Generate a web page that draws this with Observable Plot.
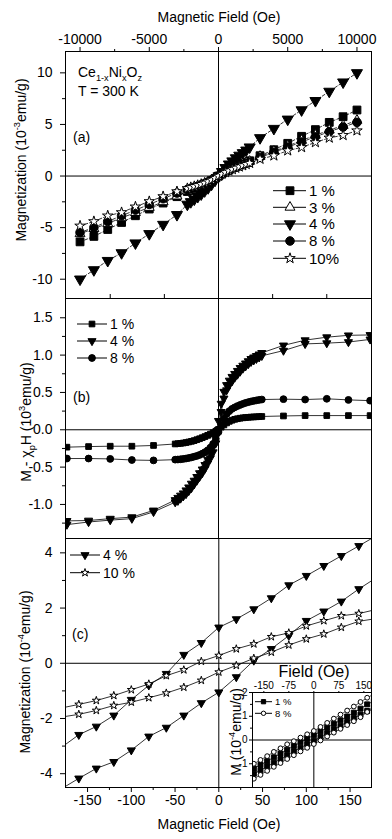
<!DOCTYPE html>
<html><head><meta charset="utf-8">
<script src="https://cdn.jsdelivr.net/npm/d3@7"></script>
<script src="https://cdn.jsdelivr.net/npm/@observablehq/plot@0.6"></script>
<style>
body{margin:0;background:#fff;}
#chart{position:relative;width:392px;height:839px;font-family:"Liberation Sans",Arial,sans-serif;}
#chart svg{position:absolute;left:0;top:0;overflow:visible;}
</style></head><body><div id="chart"></div>
<script>
// ---------- Panel (a): M vs H, 300 K ----------
const H_a = [-10000,-9000,-8000,-7000,-6000,-5000,-4000,-3000,-2250,-2000,-1750,-1500,-1250,-1000,-750,-500,-250,0,250,500,750,1000,1250,1500,1750,2000,2250,3000,4000,5000,6000,7000,8000,9000,10000];
const a_1pct = [-6.38,-5.85,-5.18,-4.5,-3.85,-3.2,-2.62,-2.0,-1.5,-1.38,-1.25,-1.12,-0.98,-0.83,-0.66,-0.47,-0.25,0,0.24,0.45,0.63,0.8,0.95,1.09,1.22,1.35,1.48,1.97,2.55,3.17,3.85,4.5,5.2,5.75,6.4];
const a_3pct = [-5.6,-5.1,-4.6,-4.05,-3.55,-3.05,-2.5,-1.95,-1.45,-1.33,-1.2,-1.08,-0.95,-0.8,-0.63,-0.45,-0.24,0,0.23,0.43,0.61,0.77,0.91,1.05,1.18,1.3,1.42,1.9,2.4,2.9,3.45,3.95,4.45,4.9,5.4];
const a_4pct = [-10.0,-9.1,-8.2,-7.45,-6.5,-5.6,-4.7,-3.75,-2.75,-2.5,-2.25,-2.0,-1.75,-1.45,-1.15,-0.8,-0.42,0,0.42,0.8,1.15,1.45,1.75,2.0,2.25,2.5,2.8,3.7,4.6,5.5,6.4,7.3,8.2,9.1,10.0];
const a_8pct = [-5.47,-4.99,-4.4,-3.85,-3.3,-2.75,-2.2,-1.65,-1.3,-1.2,-1.09,-0.98,-0.86,-0.73,-0.58,-0.41,-0.22,0,0.21,0.4,0.56,0.71,0.85,0.98,1.1,1.22,1.33,1.8,2.3,2.8,3.3,3.8,4.3,4.75,5.2];
const a_10pct = [-4.83,-4.4,-3.85,-3.53,-2.98,-2.46,-1.98,-1.5,-1.2,-1.1,-1.0,-0.9,-0.79,-0.67,-0.54,-0.38,-0.2,0,0.19,0.36,0.51,0.65,0.78,0.9,1.02,1.14,1.25,1.65,1.97,2.46,2.78,3.26,3.7,3.95,4.4];
const a_xTicks = [-10000,-5000,0,5000,10000];
const a_xMinor = [-7500,-2500,2500,7500];
const a_yTicks = [-10,-5,0,5,10];
const a_yMinor = [-7.5,-2.5,2.5,7.5];
const a_legend = ["1 %","3 %","4 %","8 %","10%"];

// ---------- Panel (b): M - chi_p H ----------
const H_b = [-14000,-12000,-10000,-8000,-6000,-4000,-3750,-3500,-3250,-3000,-2750,-2500,-2250,-2000,-1750,-1500,-1250,-1000,-750,-500,-250,0,250,500,750,1000,1250,1500,1750,2000,2250,2500,2750,3000,3250,3500,3750,4000,6000,8000,10000,12000,14000];
const b_1pct = [-0.233,-0.225,-0.22,-0.22,-0.21,-0.19,-0.186,-0.182,-0.177,-0.171,-0.163,-0.155,-0.145,-0.133,-0.12,-0.106,-0.091,-0.075,-0.058,-0.04,-0.02,0.005,0.035,0.065,0.092,0.113,0.128,0.14,0.148,0.155,0.16,0.164,0.167,0.17,0.172,0.174,0.176,0.178,0.185,0.19,0.19,0.19,0.19];
const b_4pct_up = [-1.22,-1.215,-1.19,-1.17,-1.08,-0.94,-0.91,-0.88,-0.85,-0.81,-0.77,-0.72,-0.68,-0.63,-0.58,-0.53,-0.47,-0.4,-0.32,-0.23,-0.1,0.12,0.35,0.51,0.6,0.66,0.71,0.75,0.79,0.83,0.86,0.89,0.92,0.95,0.97,0.99,1.01,1.03,1.13,1.2,1.24,1.265,1.27];
const b_4pct_dn = [-1.27,-1.235,-1.21,-1.19,-1.1,-0.97,-0.95,-0.92,-0.89,-0.86,-0.82,-0.78,-0.73,-0.68,-0.63,-0.58,-0.52,-0.45,-0.38,-0.3,-0.18,0.0,0.24,0.42,0.53,0.6,0.65,0.7,0.74,0.78,0.82,0.85,0.88,0.91,0.93,0.95,0.97,0.99,1.06,1.15,1.16,1.175,1.21];
const b_8pct = [-0.385,-0.385,-0.39,-0.405,-0.41,-0.4,-0.398,-0.395,-0.39,-0.385,-0.378,-0.37,-0.36,-0.35,-0.337,-0.32,-0.3,-0.275,-0.24,-0.19,-0.12,-0.03,0.07,0.15,0.21,0.25,0.28,0.3,0.318,0.333,0.347,0.36,0.37,0.379,0.387,0.394,0.4,0.405,0.41,0.405,0.415,0.4,0.39];
const b_xTicks = [-10000,-5000,5000,10000];
const b_yTicks = [-1,-0.5,0,0.5,1,1.5];
const b_yMinor = [-1.25,-0.75,-0.25,0.25,0.75,1.25];
const b_legend = ["1 %","4 %","8 %"];

// ---------- Panel (c): low-field loops ----------
const H_c = [-180,-160,-140,-120,-100,-80,-60,-40,-20,0,20,40,60,80,100,120,140,160,180];
const c_4pct_up = [-3.05,-2.59,-2.29,-1.89,-1.32,-0.8,-0.38,0.31,0.74,1.3,1.6,1.96,2.36,2.83,3.17,3.53,3.89,4.25,4.62];
const c_4pct_dn = [-4.55,-4.17,-3.81,-3.57,-3.15,-2.65,-2.33,-1.89,-1.44,-1.05,-0.5,0.1,0.52,1.0,1.54,1.88,2.24,2.69,3.1];
const c_10pct_up = [-1.62,-1.49,-1.35,-1.17,-0.96,-0.75,-0.45,-0.24,0.07,0.28,0.52,0.7,0.96,1.1,1.35,1.54,1.72,1.8,1.95];
const c_10pct_dn = [-1.95,-1.85,-1.71,-1.53,-1.41,-1.25,-1.08,-0.87,-0.62,-0.32,-0.08,0.18,0.4,0.66,0.88,1.06,1.3,1.52,1.62];
const c_xTicks = [-150,-100,-50,0,50,100,150];
const c_xMinor = [-125,-75,-25,25,75,125];
const c_yTicks = [-4,-2,0,2,4];
const c_yMinor = [-3,-1,1,3];
const c_legend = ["4 %","10 %"];

// ---------- Inset ----------
const H_in = [-180,-160,-140,-120,-100,-80,-60,-40,-20,0,20,40,60,80,100,120,140,160,180];
const in_1pct_up = [-1.2,-1.05,-0.89,-0.73,-0.57,-0.41,-0.25,-0.1,0.06,0.2,0.36,0.52,0.68,0.83,0.99,1.15,1.32,1.5,1.64];
const in_1pct_dn = [-1.42,-1.27,-1.11,-0.96,-0.8,-0.64,-0.48,-0.33,-0.17,-0.03,0.13,0.29,0.45,0.6,0.76,0.92,1.07,1.22,1.38];
const in_8pct_up = [-1.0,-0.84,-0.68,-0.5,-0.35,-0.18,-0.05,0.1,0.24,0.38,0.55,0.72,0.9,1.07,1.24,1.41,1.6,1.78,1.93];
const in_8pct_dn = [-1.63,-1.47,-1.3,-1.13,-0.97,-0.8,-0.64,-0.48,-0.33,-0.17,-0.02,0.15,0.31,0.47,0.63,0.79,0.96,1.18,1.32];
const in_xTicks = [-150,-75,0,75,150];
const in_yTicks = [-1,0,1,2];
const in_yMinor = [-1.5,-0.5,0.5,1.5];
const in_legend = ["1 %","8 %"];

// ---------- helpers ----------
const FONT = '"Liberation Sans", Arial, sans-serif';
const W = 392, HT = 839;
const rows = (H, vals) => H.map((h, i) => ({h, m: vals[i]}));
const triDown = {draw(ctx, size){const y=-Math.sqrt(size/(Math.sqrt(3)*3)); ctx.moveTo(0,-2*y); ctx.lineTo(-Math.sqrt(3)*y,y); ctx.lineTo(Math.sqrt(3)*y,y); ctx.closePath();}};
const styleBase = {background:"transparent", overflow:"visible", fontFamily:FONT, fontSize:"14px", color:"#000"};
const fmt = d => String(d);
const blank = () => "";
function series(H, vals, sym, r, fill, dash, sw){
  const d = rows(H, vals);
  return [
    Plot.line(d, {x:"h", y:"m", stroke:"black", strokeWidth: sw || 0.8, strokeDasharray: dash || null, clip:true}),
    Plot.dot(d, {x:"h", y:"m", symbol: sym, r, fill, stroke:"black", strokeWidth:1, clip:true})
  ];
}

const chart = document.getElementById("chart");

// Panel (a)
chart.append(Plot.plot({
  width:W, height:HT, marginLeft:65, marginRight:21, marginTop:51, marginBottom:HT-298,
  style:styleBase,
  x:{domain:[-11050,11050]}, y:{domain:[-11.87,12.07]},
  marks:[
    Plot.ruleX([0], {strokeWidth:1}), Plot.ruleY([0], {strokeWidth:1}),
    ...series(H_a, a_1pct, d3.symbolSquare, 4.4, "black", "3,2"),
    ...series(H_a, a_3pct, d3.symbolTriangle, 3.7, "white", "3,2"),
    ...series(H_a, a_4pct, triDown, 4.1, "black", "3,2"),
    ...series(H_a, a_8pct, d3.symbolCircle, 4.3, "black", "3,2"),
    ...series(H_a, a_10pct, d3.symbolStar, 3.3, "white", "3,2"),
    Plot.axisX({anchor:"top", ticks:a_xTicks, tickSize:5, tickPadding:3, tickFormat:fmt, label:null, fontSize:14}),
    Plot.axisX({anchor:"top", ticks:a_xMinor, tickSize:3, tickFormat:blank, label:null}),
    Plot.axisY({anchor:"left", ticks:a_yTicks, tickSize:5, tickPadding:8, tickFormat:fmt, label:null, fontSize:14}),
    Plot.axisY({anchor:"left", ticks:a_yMinor, tickSize:3, tickFormat:blank, label:null}),
    Plot.frame({stroke:"black"})
  ]
}));

// Panel (b)
chart.append(Plot.plot({
  width:W, height:HT, marginLeft:65, marginRight:21, marginTop:298, marginBottom:HT-538,
  style:styleBase,
  x:{domain:[-14130,14130]}, y:{domain:[-1.456,1.758]},
  marks:[
    Plot.ruleX([0], {strokeWidth:1}), Plot.ruleY([0], {strokeWidth:1}),
    ...series(H_b, b_1pct, d3.symbolSquare, 3.2, "black"),
    ...series(H_b, b_4pct_up, triDown, 3.0, "black"),
    ...series(H_b, b_4pct_dn, triDown, 3.0, "black"),
    ...series(H_b, b_8pct, d3.symbolCircle, 3.4, "black"),
    Plot.axisX({anchor:"top", ticks:b_xTicks, tickSize:5, tickFormat:blank, label:null}),
    Plot.axisY({anchor:"left", ticks:b_yTicks, tickSize:5, tickPadding:8, tickFormat:d=>d.toFixed(1), label:null, fontSize:14}),
    Plot.axisY({anchor:"left", ticks:b_yMinor, tickSize:3, tickFormat:blank, label:null}),
    Plot.frame({stroke:"black"})
  ]
}));

// Panel (c)
chart.append(Plot.plot({
  width:W, height:HT, marginLeft:65, marginRight:21, marginTop:538, marginBottom:HT-787,
  style:styleBase,
  x:{domain:[-175.2,174.5]}, y:{domain:[-4.5,4.52]},
  marks:[
    Plot.ruleX([0], {strokeWidth:1}), Plot.ruleY([0], {strokeWidth:1}),
    ...series(H_c, c_4pct_up, triDown, 3.0, "black"),
    ...series(H_c, c_4pct_dn, triDown, 3.0, "black"),
    ...series(H_c, c_10pct_up, d3.symbolStar, 2.5, "white"),
    ...series(H_c, c_10pct_dn, d3.symbolStar, 2.5, "white"),
    Plot.axisX({anchor:"bottom", ticks:c_xTicks, tickSize:5, tickPadding:3, tickFormat:fmt, label:null, fontSize:14}),
    Plot.axisX({anchor:"bottom", ticks:c_xMinor, tickSize:3, tickFormat:blank, label:null}),
    Plot.axisY({anchor:"left", ticks:c_yTicks, tickSize:5, tickPadding:8, tickFormat:fmt, label:null, fontSize:14}),
    Plot.axisY({anchor:"left", ticks:c_yMinor, tickSize:3, tickFormat:blank, label:null}),
    Plot.frame({stroke:"black"})
  ]
}));

// Inset
chart.append(Plot.plot({
  width:W, height:HT, marginLeft:252, marginRight:21, marginTop:692, marginBottom:HT-787,
  style:styleBase,
  x:{domain:[-184,173]}, y:{domain:[-2,2]},
  marks:[
    Plot.frame({fill:"white", stroke:"black"}),
    Plot.ruleX([0], {strokeWidth:1}), Plot.ruleY([0], {strokeWidth:1}),
    ...series(H_in, in_1pct_up, d3.symbolSquare, 2.8, "black", null, 0.7),
    ...series(H_in, in_1pct_dn, d3.symbolSquare, 2.8, "black", null, 0.7),
    ...series(H_in, in_8pct_up, d3.symbolCircle, 2.4, "white", null, 0.7),
    ...series(H_in, in_8pct_dn, d3.symbolCircle, 2.4, "white", null, 0.7),
    Plot.axisX({anchor:"top", ticks:in_xTicks, tickSize:2, tickPadding:2, tickFormat:fmt, label:null, fontSize:10}),
    Plot.axisY({anchor:"left", ticks:in_yTicks, tickSize:3, tickPadding:2, tickFormat:fmt, label:null, fontSize:10}),
    Plot.axisY({anchor:"left", ticks:in_yMinor, tickSize:2, tickFormat:blank, label:null}),
    Plot.frame({stroke:"black"})
  ]
}));

// ---------- Text overlay: titles, annotations, legends ----------
const svg = d3.select(chart).append("svg").attr("width",W).attr("height",HT)
  .style("font-family",FONT).style("font-size","14px");
function rich(x, y, parts, {size=14, anchor="start", rotate=0}={}){
  const t = svg.append("text").attr("text-anchor",anchor).attr("font-size",size)
    .attr("transform",`translate(${x},${y}) rotate(${rotate})`).attr("fill","#000");
  let shift = 0;
  for (const [s,k] of parts){
    const target = k==="sup" ? -0.42*size : k==="sub" ? 0.3*size : 0;
    t.append("tspan").attr("dy", target-shift).attr("font-size", k ? size*0.66 : size).text(s);
    shift = target;
  }
  return t;
}
rich(219, 21.5, [["Magnetic Field (Oe)"]], {anchor:"middle"});
rich(219, 828.5, [["Magnetic Field (Oe)"]], {anchor:"middle"});
rich(26, 160, [["Magnetization (10"],["-3","sup"],["emu/g)"]], {anchor:"middle", rotate:-90});
rich(31, 422, [["M - χ"],["p","sub"],["H (10"],["3","sup"],["emu/g)"]], {anchor:"middle", rotate:-90});
rich(30, 672, [["Magnetization (10"],["-4","sup"],["emu/g)"]], {anchor:"middle", rotate:-90});
rich(78, 77, [["Ce"],["1-x","sub"],["Ni"],["x","sub"],["O"],["z","sub"]]);
rich(78, 96, [["T = 300 K"]]);
rich(73, 142, [["(a)"]]);
rich(73, 402, [["(b)"]]);
rich(72, 639, [["(c)"]]);
rich(314, 677, [["Field (Oe)"]], {anchor:"middle", size:16});
rich(241, 732, [["M (10"],["-4","sup"],["emu/g)"]], {anchor:"middle", rotate:-90, size:14});

function legend(items, x1, x2, xm, xt, fs){
  for (const it of items){
    svg.append("line").attr("x1",x1).attr("x2",x2).attr("y1",it.y).attr("y2",it.y).attr("stroke","black").attr("stroke-width",1);
    svg.append("path").attr("transform",`translate(${xm},${it.y})`).attr("d", d3.symbol(it.sym, it.size)())
      .attr("fill", it.fill).attr("stroke","black").attr("stroke-width",1);
    svg.append("text").attr("x",xt).attr("y",it.y+fs*0.36).attr("font-size",fs).attr("fill","#000").text(it.label);
  }
}
const area = r => Math.PI*r*r;
legend([
  {y:190.7, sym:d3.symbolSquare, size:area(4.4), fill:"black", label:a_legend[0]},
  {y:207.3, sym:d3.symbolTriangle, size:area(3.7), fill:"white", label:a_legend[1]},
  {y:224, sym:triDown, size:area(4.1), fill:"black", label:a_legend[2]},
  {y:241, sym:d3.symbolCircle, size:area(4.3), fill:"black", label:a_legend[3]},
  {y:258.3, sym:d3.symbolStar, size:area(3.3), fill:"white", label:a_legend[4]}
], 273, 306, 290, 309, 15);
legend([
  {y:324, sym:d3.symbolSquare, size:area(3.2), fill:"black", label:b_legend[0]},
  {y:341, sym:triDown, size:area(3.0), fill:"black", label:b_legend[1]},
  {y:358, sym:d3.symbolCircle, size:area(3.4), fill:"black", label:b_legend[2]}
], 77, 107, 92, 110, 14);
legend([
  {y:555, sym:triDown, size:area(3.0), fill:"black", label:c_legend[0]},
  {y:572.7, sym:d3.symbolStar, size:area(2.5), fill:"white", label:c_legend[1]}
], 70, 100, 85, 103, 14);
legend([
  {y:701.7, sym:d3.symbolSquare, size:area(2.4), fill:"black", label:in_legend[0]},
  {y:713.3, sym:d3.symbolCircle, size:area(2.2), fill:"white", label:in_legend[1]}
], 255, 272, 263.5, 275, 9.5);
</script>
</body></html>
